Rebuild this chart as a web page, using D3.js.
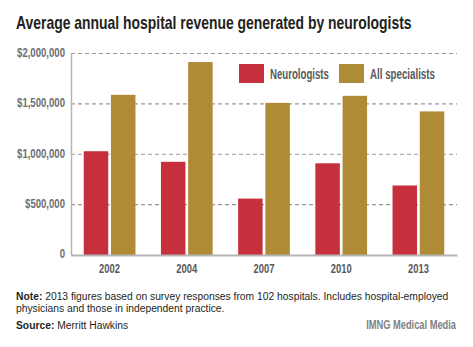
<!DOCTYPE html>
<html>
<head>
<meta charset="utf-8">
<script src="https://cdn.jsdelivr.net/npm/d3@7"></script>
<style>
  body { margin: 0; background: #fff; }
  svg { display: block; }
  text { font-family: "Liberation Sans", Arial, sans-serif; }
</style>
</head>
<body>
<div id="chart"></div>
<script>
// data
const years = ['2002', '2004', '2007', '2010', '2013'];
const seriesNames = ['Neurologists', 'All specialists'];
const neurologists = [1030000, 925000, 560000, 910000, 690000];
const allSpecialists = [1590000, 1915000, 1510000, 1580000, 1425000];
const yTicks = [0, 500000, 1000000, 1500000, 2000000];

const colors = ['#c5303c', '#b08b36'];

const width = 473, height = 347;
const margin = { top: 53.5, right: 16, bottom: 92, left: 71 };
const innerW = width - margin.left - margin.right;
const innerH = height - margin.top - margin.bottom;

const svg = d3.select('#chart').append('svg')
    .attr('width', width)
    .attr('height', height);

// squeeze text horizontally so plain fonts look like the condensed face
function fitK(sel, target) {
    return target / sel.node().getComputedTextLength();
}
function squeeze(sel, k) {
    sel.each(function () {
        const t = d3.select(this);
        const x = +t.attr('x') || 0, y = +t.attr('y') || 0;
        t.attr('x', 0).attr('y', 0)
            .attr('transform', `translate(${x},${y}) scale(${k},1)`);
    });
}

// title
const title = svg.append('text')
    .attr('x', 16).attr('y', 29)
    .style('font-size', '18px')
    .style('font-weight', 'bold')
    .style('fill', '#231f20')
    .text('Average annual hospital revenue generated by neurologists');
squeeze(title, fitK(title, 396));

const chart = svg.append('g')
    .attr('transform', `translate(${margin.left},${margin.top})`);

const x0 = d3.scaleBand()
    .domain(years)
    .range([0, innerW])
    .paddingInner(0.33)
    .paddingOuter(0.165);

const x1 = d3.scaleBand()
    .domain(seriesNames)
    .range([0, x0.bandwidth()])
    .paddingInner(0.1);

const y = d3.scaleLinear()
    .domain([0, 2000000])
    .range([innerH, 0]);

// dashed grid
chart.append('g')
    .selectAll('line')
    .data(yTicks.filter(d => d > 0))
    .join('line')
    .attr('x1', 0).attr('x2', innerW)
    .attr('y1', d => y(d)).attr('y2', d => y(d))
    .attr('stroke', '#9a9a9a')
    .attr('stroke-width', 1.2)
    .attr('stroke-dasharray', '4,3');

// y axis
const yAxis = d3.axisLeft(y)
    .tickValues(yTicks)
    .tickSize(0)
    .tickPadding(6)
    .tickFormat(d => d === 0 ? '0' : '$' + d3.format(',')(d));

const yAxisG = chart.append('g').call(yAxis);
yAxisG.select('.domain')
    .attr('stroke', '#b5b5b5')
    .attr('stroke-width', 1.5);
const yTexts = yAxisG.selectAll('text')
    .style('font-size', '12.5px')
    .style('font-weight', 'bold')
    .style('fill', '#6d6e71');
const ky = fitK(yAxisG.selectAll('text').filter(d => d === 2000000), 48);
yTexts.attr('x', 0).attr('dy', '0.3em')
    .attr('transform', `translate(-6,-1) scale(${ky},1)`);

// bars
const groups = chart.append('g')
    .selectAll('g')
    .data(years.map((yr, i) => ({ year: yr, values: [neurologists[i], allSpecialists[i]] })))
    .join('g')
    .attr('transform', d => `translate(${x0(d.year)},0)`);

groups.selectAll('rect')
    .data(d => d.values.map((v, j) => ({ key: seriesNames[j], value: v, j: j })))
    .join('rect')
    .attr('x', d => x1(d.key))
    .attr('y', d => y(d.value))
    .attr('width', x1.bandwidth())
    .attr('height', d => innerH - y(d.value))
    .attr('fill', d => colors[d.j]);

// x axis
const xAxis = d3.axisBottom(x0)
    .tickSize(0)
    .tickPadding(9);

const xAxisG = chart.append('g')
    .attr('transform', `translate(0,${innerH})`)
    .call(xAxis);
xAxisG.select('.domain')
    .attr('stroke', '#b5b5b5')
    .attr('stroke-width', 2);
const xTexts = xAxisG.selectAll('text')
    .style('font-size', '12.5px')
    .style('font-weight', 'bold')
    .style('fill', '#58595b');
const kx = fitK(xTexts.filter((d, i) => i === 0), 21);
xTexts.each(function () {
    const t = d3.select(this);
    t.attr('transform', `scale(${kx},1)`);
});

// legend
const legendX = [239, 339];
const legend = svg.append('g');
seriesNames.forEach((name, i) => {
    legend.append('rect')
        .attr('x', legendX[i]).attr('y', 64)
        .attr('width', 25).attr('height', 19)
        .attr('fill', colors[i]);
    const t = legend.append('text')
        .attr('x', legendX[i] + 31).attr('y', 79)
        .style('font-size', '14px')
        .style('font-weight', 'bold')
        .style('fill', '#58595b')
        .text(name);
    squeeze(t, fitK(t, i === 0 ? 59 : 65));
});

// footer
const note1 = svg.append('text')
    .attr('x', 16).attr('y', 300)
    .style('font-size', '11.5px')
    .style('fill', '#231f20');
note1.append('tspan').style('font-weight', 'bold').text('Note:');
note1.append('tspan').text(' 2013 figures based on survey responses from 102 hospitals. Includes hospital-employed');
const kn = fitK(note1, 433);
squeeze(note1, kn);

const note2 = svg.append('text')
    .attr('x', 16).attr('y', 312)
    .style('font-size', '11.5px')
    .style('fill', '#231f20')
    .text('physicians and those in independent practice.');
squeeze(note2, kn);

const source = svg.append('text')
    .attr('x', 16).attr('y', 329)
    .style('font-size', '11.5px')
    .style('fill', '#231f20');
source.append('tspan').style('font-weight', 'bold').text('Source:');
source.append('tspan').text(' Merritt Hawkins');
squeeze(source, kn);

const credit = svg.append('text')
    .attr('x', 456).attr('y', 329)
    .attr('text-anchor', 'end')
    .style('font-size', '12px')
    .style('font-weight', 'bold')
    .style('fill', '#808285')
    .text('IMNG Medical Media');
squeeze(credit, fitK(credit, 90));
</script>
</body>
</html>
